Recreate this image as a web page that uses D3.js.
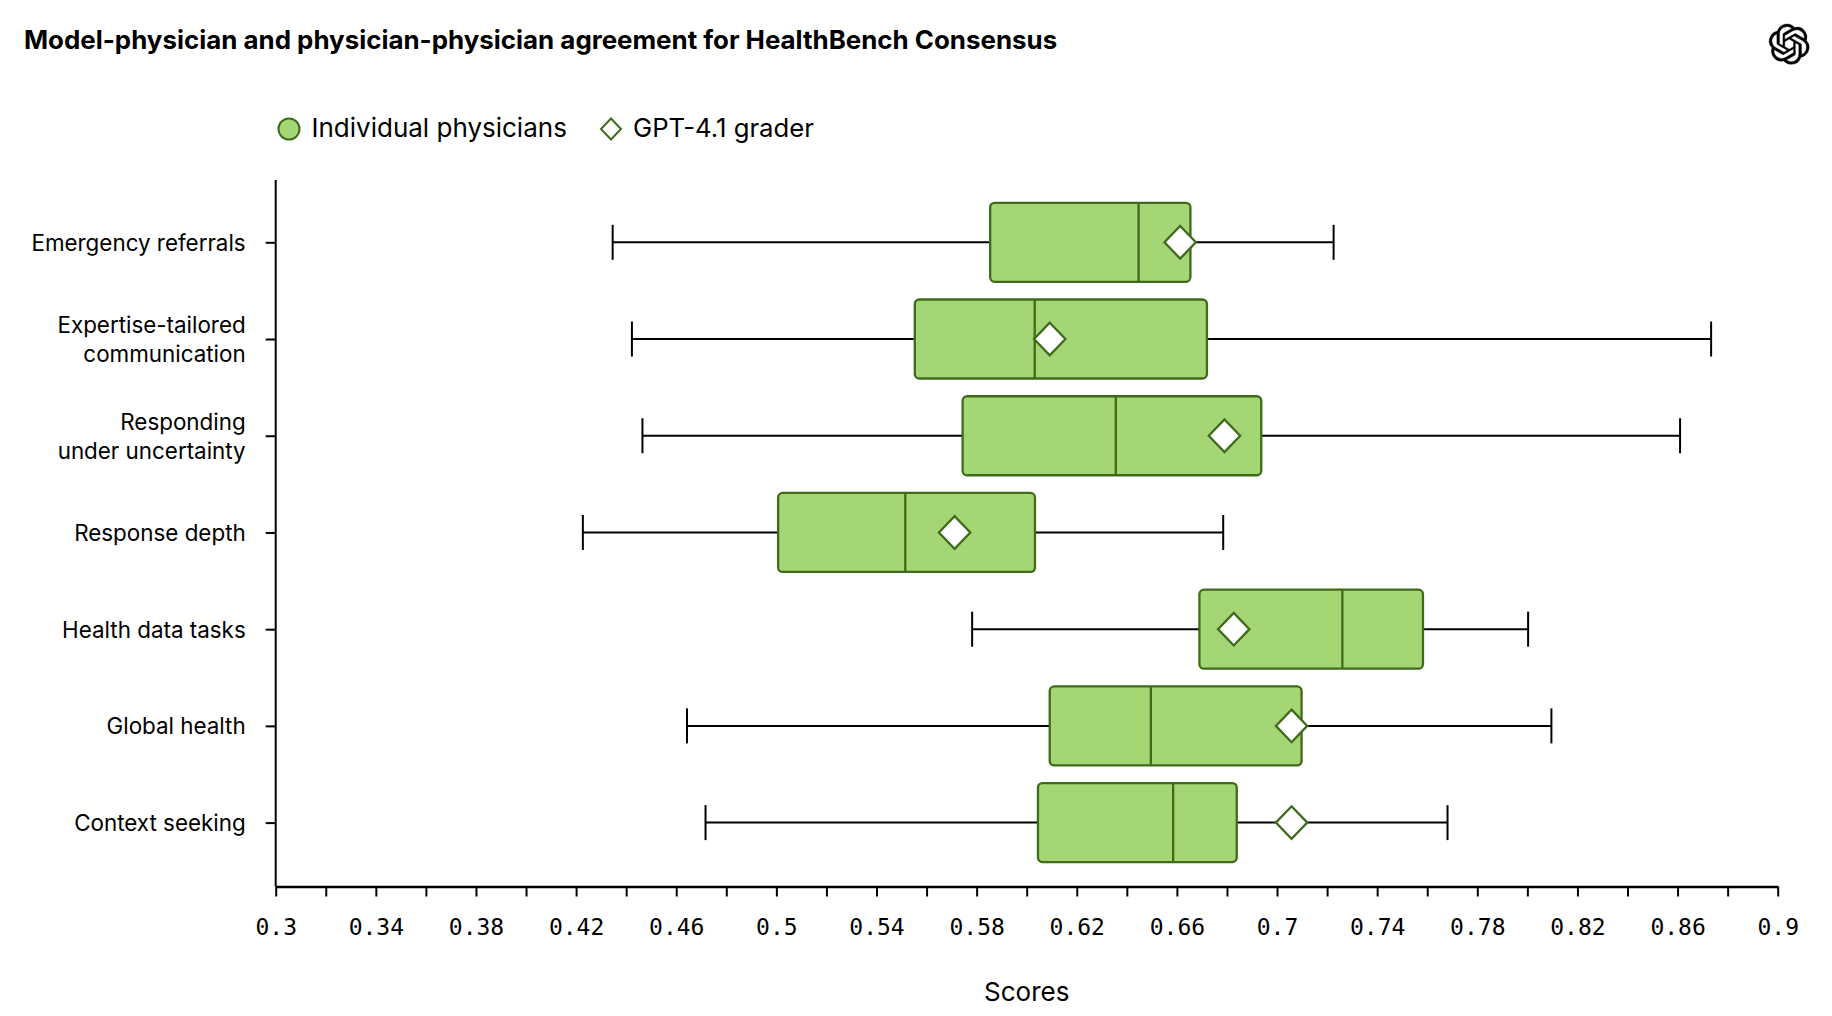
<!DOCTYPE html>
<html>
<head>
<meta charset="utf-8">
<script src="https://d3js.org/d3.v7.min.js"></script>
<style>
  html, body { margin: 0; padding: 0; background: #fff; }
  svg { display: block; }
  text { font-family: Inter, sans-serif; fill: #000; }
  .mono text { font-family: "DejaVu Sans Mono", monospace; }
</style>
</head>
<body>
<svg id="chart" width="1832" height="1016"></svg>
<script>
var categories = [
  ['Emergency referrals'],
  ['Expertise-tailored', 'communication'],
  ['Responding', 'under uncertainty'],
  ['Response depth'],
  ['Health data tasks'],
  ['Global health'],
  ['Context seeking']
]
var whiskerLow = [0.4346, 0.4423, 0.4465, 0.4227, 0.5782, 0.4643, 0.4717]
var quartile1 = [0.5854, 0.5553, 0.5744, 0.5007, 0.669, 0.6092, 0.6045]
var medians = [0.6447, 0.6032, 0.6356, 0.5515, 0.7261, 0.6496, 0.6585]
var quartile3 = [0.6654, 0.672, 0.6937, 0.6033, 0.7583, 0.7098, 0.6839]
var whiskerHigh = [0.7226, 0.8734, 0.861, 0.6785, 0.8003, 0.8096, 0.7681]
var graderScores = [0.6613, 0.6092, 0.679, 0.5712, 0.6827, 0.7058, 0.7058]
var xTicks = [0.3, 0.32, 0.34, 0.36, 0.38, 0.4, 0.42, 0.44, 0.46, 0.48, 0.5, 0.52, 0.54, 0.56, 0.58, 0.6,
  0.62, 0.64, 0.66, 0.68, 0.7, 0.72, 0.74, 0.76, 0.78, 0.8, 0.82, 0.84, 0.86, 0.88, 0.9]
var xTickLabels = ['0.3', '0.34', '0.38', '0.42', '0.46', '0.5', '0.54', '0.58', '0.62', '0.66', '0.7',
  '0.74', '0.78', '0.82', '0.86', '0.9']
var legendLabels = ['Individual physicians', 'GPT-4.1 grader']

var boxFill = '#a4d676'
var darkGreen = '#3f6b1a'
var logoPath = 'M22.2819 9.8211a5.9847 5.9847 0 0 0-.5157-4.9108 6.0462 6.0462 0 0 0-6.5098-2.9A6.0651 6.0651 0 0 0 4.9807 4.1818a5.9847 5.9847 0 0 0-3.9977 2.9 6.0462 6.0462 0 0 0 .7427 7.0966 5.98 5.98 0 0 0 .511 4.9107 6.051 6.051 0 0 0 6.5146 2.9001A5.9847 5.9847 0 0 0 13.2599 24a6.0557 6.0557 0 0 0 5.7718-4.2058 5.9894 5.9894 0 0 0 3.9977-2.9001 6.0557 6.0557 0 0 0-.7475-7.0729zm-9.022 12.6081a4.4755 4.4755 0 0 1-2.8764-1.0408l.1419-.0804 4.7783-2.7582a.7948.7948 0 0 0 .3927-.6813v-6.7369l2.02 1.1686a.071.071 0 0 1 .038.052v5.5826a4.504 4.504 0 0 1-4.4945 4.4944zm-9.6607-4.1254a4.4708 4.4708 0 0 1-.5346-3.0137l.142.0852 4.783 2.7582a.7712.7712 0 0 0 .7806 0l5.8428-3.3685v2.3324a.0804.0804 0 0 1-.0332.0615L9.74 19.9502a4.4992 4.4992 0 0 1-6.1408-1.6464zM2.3408 7.8956a4.485 4.485 0 0 1 2.3655-1.9728V11.6a.7664.7664 0 0 0 .3879.6765l5.8144 3.3543-2.0201 1.1685a.0757.0757 0 0 1-.071 0l-4.8303-2.7865A4.504 4.504 0 0 1 2.3408 7.872zm16.5963 3.8558L13.1038 8.364 15.1192 7.2a.0757.0757 0 0 1 .071 0l4.8303 2.7913a4.4944 4.4944 0 0 1-.6765 8.1042v-5.6772a.79.79 0 0 0-.407-.667zm2.0107-3.0231l-.142-.0852-4.7735-2.7818a.7759.7759 0 0 0-.7854 0L9.409 9.2297V6.8974a.0662.0662 0 0 1 .0284-.0615l4.8303-2.7866a4.4992 4.4992 0 0 1 6.6802 4.66zM8.3065 12.863l-2.02-1.1638a.0804.0804 0 0 1-.038-.0567V6.0742a4.4992 4.4992 0 0 1 7.3757-3.4537l-.142.0805L8.704 5.459a.7948.7948 0 0 0-.3927.6813zm1.0976-2.3654l2.602-1.4998 2.6069 1.4998v2.9994l-2.5974 1.4997-2.6067-1.4997Z'

var svg = d3.select('#chart')
var axisY = 886.5
var axisTop = 180

var x = d3.scaleLinear().domain([0.3, 0.9]).range([275.7, 1777.7])
var y = d3.scalePoint().domain(d3.range(categories.length)).range([242.3, 822.6])

var boxHeight = 79
var capHeight = 35

function diamondPath(halfWidth, halfHeight) {
  return 'M0,' + (-halfHeight) + 'L' + halfWidth + ',0L0,' + halfHeight + 'L' + (-halfWidth) + ',0Z'
}

// title and logo
svg.append('text')
  .attr('x', 24)
  .attr('y', 49)
  .attr('font-size', 25.9)
  .attr('font-weight', 700)
  .text('Model-physician and physician-physician agreement for HealthBench Consensus')

svg.append('path')
  .attr('d', logoPath)
  .attr('fill', '#000')
  .attr('stroke', '#000')
  .attr('stroke-width', 0.25)
  .attr('transform', 'translate(1769,24) scale(1.68)')

// legend
svg.append('circle')
  .attr('cx', 289)
  .attr('cy', 129)
  .attr('r', 10.5)
  .attr('fill', boxFill)
  .attr('stroke', darkGreen)
  .attr('stroke-width', 2)
svg.append('text')
  .attr('x', 311.5)
  .attr('y', 136.8)
  .attr('font-size', 26)
  .text(legendLabels[0])
svg.append('path')
  .attr('d', diamondPath(10, 10.5))
  .attr('transform', 'translate(611,129)')
  .attr('fill', '#fff')
  .attr('stroke', darkGreen)
  .attr('stroke-width', 2)
svg.append('text')
  .attr('x', 633)
  .attr('y', 136.8)
  .attr('font-size', 25.7)
  .text(legendLabels[1])

// axes
var xAxis = svg.append('g')
  .attr('class', 'mono')
  .attr('transform', 'translate(0,' + axisY + ')')
  .call(d3.axisBottom(x)
    .tickValues(xTicks)
    .tickSize(10)
    .tickSizeOuter(0)
    .tickPadding(22)
    .tickFormat(function(d) {
      var label = String(d)
      return xTickLabels.indexOf(label) !== -1 ? label : ''
    }))
xAxis.selectAll('text').attr('font-size', 23).attr('fill', '#000')
xAxis.selectAll('line').attr('stroke', '#000').attr('stroke-width', 2)
xAxis.select('.domain').attr('stroke', '#000').attr('stroke-width', 2.5)

var yAxis = svg.append('g')
  .attr('transform', 'translate(' + x.range()[0] + ',0)')
  .call(d3.axisLeft(y).tickSize(10).tickPadding(20).tickFormat(''))
yAxis.select('.domain').remove()
yAxis.selectAll('line').attr('stroke', '#000').attr('stroke-width', 2)
yAxis.selectAll('.tick').each(function(d) {
  var lines = categories[d]
  var label = d3.select(this).select('text')
    .attr('font-size', 22.4)
    .attr('text-anchor', 'end')
    .attr('fill', '#000')
  label.text(null)
  lines.forEach(function(line, i) {
    label.append('tspan')
      .attr('x', -30)
      .attr('y', 8 + (i - (lines.length - 1) / 2) * 29)
      .attr('dy', 0)
      .text(line)
  })
})
svg.append('line')
  .attr('x1', x.range()[0])
  .attr('x2', x.range()[0])
  .attr('y1', axisTop)
  .attr('y2', axisY)
  .attr('stroke', '#000')
  .attr('stroke-width', 2)

svg.append('text')
  .attr('x', (x.range()[0] + x.range()[1]) / 2)
  .attr('y', 1001)
  .attr('text-anchor', 'middle')
  .attr('font-size', 26)
  .text('Scores')

// boxes
var rows = svg.append('g').selectAll('g')
  .data(d3.range(categories.length))
  .join('g')
  .attr('transform', function(i) { return 'translate(0,' + y(i) + ')' })

rows.append('line')
  .attr('x1', function(i) { return x(whiskerLow[i]) })
  .attr('x2', function(i) { return x(whiskerHigh[i]) })
  .attr('stroke', '#000')
  .attr('stroke-width', 2)
rows.append('line')
  .attr('x1', function(i) { return x(whiskerLow[i]) })
  .attr('x2', function(i) { return x(whiskerLow[i]) })
  .attr('y1', -capHeight / 2)
  .attr('y2', capHeight / 2)
  .attr('stroke', '#000')
  .attr('stroke-width', 2)
rows.append('line')
  .attr('x1', function(i) { return x(whiskerHigh[i]) })
  .attr('x2', function(i) { return x(whiskerHigh[i]) })
  .attr('y1', -capHeight / 2)
  .attr('y2', capHeight / 2)
  .attr('stroke', '#000')
  .attr('stroke-width', 2)
rows.append('rect')
  .attr('x', function(i) { return x(quartile1[i]) })
  .attr('width', function(i) { return x(quartile3[i]) - x(quartile1[i]) })
  .attr('y', -boxHeight / 2)
  .attr('height', boxHeight)
  .attr('rx', 4.5)
  .attr('fill', boxFill)
  .attr('stroke', darkGreen)
  .attr('stroke-width', 2.3)
rows.append('line')
  .attr('x1', function(i) { return x(medians[i]) })
  .attr('x2', function(i) { return x(medians[i]) })
  .attr('y1', -boxHeight / 2)
  .attr('y2', boxHeight / 2)
  .attr('stroke', darkGreen)
  .attr('stroke-width', 2.3)
rows.append('path')
  .attr('d', diamondPath(15.7, 16.3))
  .attr('transform', function(i) { return 'translate(' + x(graderScores[i]) + ',0)' })
  .attr('fill', '#fff')
  .attr('stroke', darkGreen)
  .attr('stroke-width', 2.3)
</script>
</body>
</html>
